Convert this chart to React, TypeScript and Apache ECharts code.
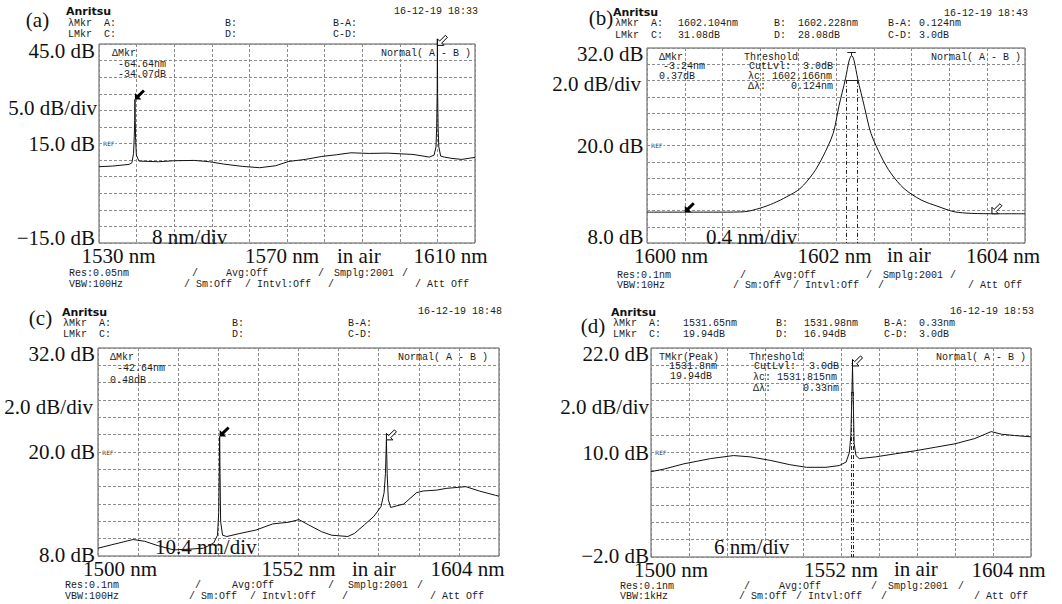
import React, { useEffect, useRef } from "react";
import * as echarts from "echarts";

// ---------- data: panel (a) ----------
const wavelengthA = [1530.0, 1532.9, 1536.4, 1537.0, 1537.35, 1537.5, 1537.6, 1537.65, 1537.7, 1537.8, 1537.95, 1538.5, 1542.6, 1546.0, 1550.3, 1553.5, 1556.5, 1560.5, 1564.2, 1567.6, 1570.4, 1573.9, 1577.4, 1580.5, 1583.6, 1587.5, 1591.3, 1596.8, 1600.3, 1601.3, 1601.7, 1601.85, 1601.95, 1602.0, 1602.05, 1602.15, 1602.3, 1602.7, 1603.5, 1605.1, 1607.2, 1609.0, 1610.0];
const powerA = [8.0, 8.2, 8.7, 9.2, 12.0, 17.0, 22.0, 28.3, 22.0, 16.0, 11.5, 9.7, 9.5, 9.8, 9.9, 9.5, 8.8, 8.1, 7.7, 8.3, 9.6, 10.2, 11.1, 11.6, 12.2, 12.0, 12.1, 11.7, 10.9, 11.5, 14.0, 20.0, 30.0, 46.5, 30.0, 20.0, 14.0, 11.2, 10.9, 10.5, 10.2, 10.6, 10.8];
const xTicksA = [1530, 1538, 1546, 1554, 1562, 1570, 1578, 1586, 1594, 1602, 1610];
const xLabelsA = [1530, 1570, 1610];
const yLabelsA = [45, 15, -15];

// ---------- data: panel (b) ----------
const wavelengthB = [1600.0, 1600.4, 1600.8, 1601.03, 1601.2, 1601.34, 1601.48, 1601.62, 1601.76, 1601.86, 1601.97, 1602.03, 1602.1, 1602.14, 1602.166, 1602.19, 1602.23, 1602.3, 1602.37, 1602.48, 1602.58, 1602.72, 1602.9, 1603.08, 1603.25, 1603.43, 1603.7, 1604.0];
const powerB = [11.8, 11.8, 11.8, 11.85, 12.3, 12.9, 13.7, 14.7, 16.6, 18.6, 21.5, 24.8, 28.2, 30.5, 31.08, 30.5, 28.2, 24.8, 21.5, 18.6, 16.6, 14.7, 13.3, 12.5, 11.85, 11.65, 11.6, 11.6];
const xTicksB = [1600, 1600.4, 1600.8, 1601.2, 1601.6, 1602, 1602.4, 1602.8, 1603.2, 1603.6, 1604];
const xLabelsB = [1600, 1602, 1604];
const yLabelsB = [32, 20, 8];
const markersB = [1602.104, 1602.228];
const levelsB = [28.08, 31.08];

// ---------- data: panel (c) ----------
const wavelengthC = [1500.0, 1503.6, 1509.1, 1512.1, 1515.5, 1519.7, 1524.0, 1527.4, 1530.0, 1531.0, 1531.3, 1531.45, 1531.55, 1531.65, 1531.8, 1532.3, 1533.4, 1536.8, 1541.0, 1545.3, 1549.5, 1552.1, 1554.6, 1558.0, 1560.6, 1564.8, 1566.5, 1569.1, 1571.6, 1573.4, 1574.2, 1574.55, 1574.8, 1575.0, 1575.3, 1575.9, 1579.3, 1582.6, 1584.3, 1587.8, 1590.3, 1595.4, 1598.9, 1603.1, 1604.0];
const powerC = [8.9, 9.3, 9.9, 9.7, 9.2, 8.7, 8.8, 8.9, 9.5, 10.4, 13.0, 17.5, 21.8, 17.5, 12.0, 10.4, 10.25, 10.6, 11.0, 11.7, 11.9, 12.2, 11.6, 10.8, 10.4, 10.25, 10.6, 11.6, 12.6, 13.7, 15.3, 17.5, 21.4, 17.5, 14.5, 13.6, 14.0, 15.3, 15.5, 15.6, 15.8, 16.0, 15.5, 15.0, 14.9];
const xTicksC = [1500, 1510.4, 1520.8, 1531.2, 1541.6, 1552, 1562.4, 1572.8, 1583.2, 1593.6, 1604];
const xLabelsC = [1500, 1552, 1604];
const yLabelsC = [32, 20, 8];

// ---------- data: panel (d) ----------
const wavelengthD = [1500.0, 1503.6, 1509.0, 1516.3, 1522.6, 1527.1, 1532.6, 1538.0, 1542.5, 1547.9, 1551.5, 1553.4, 1554.3, 1554.7, 1554.95, 1555.15, 1555.35, 1555.6, 1556.1, 1557.0, 1561.5, 1566.9, 1572.3, 1577.8, 1583.2, 1588.6, 1593.1, 1595.9, 1599.5, 1604.0];
const powerD = [7.8, 8.1, 8.7, 9.3, 9.65, 9.5, 9.1, 8.6, 8.3, 8.3, 8.5, 8.9, 10.0, 12.0, 16.0, 19.94, 16.0, 11.0, 9.65, 9.3, 9.5, 9.85, 10.2, 10.6, 11.0, 11.6, 12.4, 12.1, 11.95, 11.8];
const xTicksD = [1500, 1510.4, 1520.8, 1531.2, 1541.6, 1552, 1562.4, 1572.8, 1583.2, 1593.6, 1604];
const xLabelsD = [1500, 1552, 1604];
const yLabelsD = [22, 10, -2];
const markersD = [1554.86, 1555.43];
const levelsD = [16.94, 19.94];

// ---------- styles ----------
const SERIF = '"Liberation Serif", "Times New Roman", serif';
const MONO = '"Liberation Mono", "DejaVu Sans Mono", monospace';
const TEXT = "#1c1c1c";
const ARROW = "path://M0,10L0,3.5L2.2,5.7L8,0L10,2L4.3,7.8L6.5,10Z";

const near = (a: number, b: number) => Math.abs(a - b) < 1e-6;

function arrow(coord: number[], hollow: boolean, offset: number[] = [5, -5]) {
  return {
    coord,
    symbol: ARROW,
    symbolSize: 10,
    symbolOffset: offset,
    itemStyle: hollow
      ? { color: "#fff", borderColor: "#000", borderWidth: 1 }
      : { color: "#000", borderWidth: 0 },
    label: { show: false },
  };
}

function seg(p1: number[], p2: number[], dashed: boolean) {
  return [
    {
      coord: p1,
      lineStyle: { color: "#222", width: 1, type: dashed ? [4, 2, 1, 2] : "solid" },
    },
    { coord: p2 },
  ];
}

type PanelCfg = {
  grid: { left: number; top: number; width: number; height: number };
  xs: number[];
  ys: number[];
  xMin: number;
  xMax: number;
  xTicks: number[];
  xLabels: number[];
  xPad: [number, number, number]; // lo padLeft, mid shift, hi padRight
  yMin: number;
  yMax: number;
  yStep: number;
  yLabels: number[];
  yShift: [number, number]; // top down-shift, bottom up-shift
  yMargin: number;
  clip: boolean;
  smooth: number | boolean;
  points: any[];
  lines: any[];
  ref: number;
};

const panels: PanelCfg[] = [
  {
    grid: { left: 99, top: 44, width: 376, height: 199 },
    xs: wavelengthA, ys: powerA,
    xMin: 1530, xMax: 1610, xTicks: xTicksA, xLabels: xLabelsA, xPad: [39, -5, 49],
    yMin: -15, yMax: 45, yStep: 5, yLabels: yLabelsA, yShift: [7, 5], yMargin: 4,
    clip: false, smooth: false,
    points: [arrow([1537.65, 28.3], false), arrow([1602.0, 44.9], true, [5, -4])],
    lines: [],
    ref: 15,
  },
  {
    grid: { left: 647, top: 48, width: 378, height: 195 },
    xs: wavelengthB, ys: powerB,
    xMin: 1600, xMax: 1604, xTicks: xTicksB, xLabels: xLabelsB, xPad: [48, -1.5, 44],
    yMin: 8, yMax: 32, yStep: 2, yLabels: yLabelsB, yShift: [5.5, 6], yMargin: 3.5,
    clip: true, smooth: 0.3,
    points: [arrow([1600.4, 11.8], false), arrow([1603.65, 11.6], true)],
    lines: [
      seg([markersB[0], levelsB[0]], [markersB[0], 8], true),
      seg([markersB[1], levelsB[0]], [markersB[1], 8], true),
      seg([markersB[0], levelsB[0]], [markersB[1], levelsB[0]], false),
      seg([1602.12, levelsB[1] + 0.4], [1602.21, levelsB[1] + 0.4], false),
      seg([1602.166, levelsB[1] + 0.4], [1602.166, levelsB[1]], false),
    ],
    ref: 20,
  },
  {
    grid: { left: 98, top: 348, width: 401, height: 208 },
    xs: wavelengthC, ys: powerC,
    xMin: 1500, xMax: 1604, xTicks: xTicksC, xLabels: xLabelsC, xPad: [44, 0, 63],
    yMin: 8, yMax: 32, yStep: 2, yLabels: yLabelsC, yShift: [6, 1.5], yMargin: 3,
    clip: true, smooth: false,
    points: [arrow([1531.55, 21.8], false), arrow([1574.8, 21.4], true)],
    lines: [],
    ref: 20,
  },
  {
    grid: { left: 651, top: 348, width: 380, height: 209 },
    xs: wavelengthD, ys: powerD,
    xMin: 1500, xMax: 1604, xTicks: xTicksD, xLabels: xLabelsD, xPad: [40, 0, 45],
    yMin: -2, yMax: 22, yStep: 2, yLabels: yLabelsD, yShift: [6, 1.5], yMargin: 2,
    clip: true, smooth: false,
    points: [arrow([1555.15, 19.94], true)],
    lines: [
      seg([markersD[0], levelsD[0]], [markersD[0], -2], true),
      seg([markersD[1], levelsD[0]], [markersD[1], -2], true),
      seg([markersD[0], levelsD[0]], [markersD[1], levelsD[0]], false),
      seg([1554.9, levelsD[1] + 0.3], [1555.4, levelsD[1] + 0.3], false),
    ],
    ref: 10,
  },
];

// ---------- text helpers ----------
function txt(text: string, x: number, y: number, opts: any = {}) {
  const align = opts.align || "left";
  return {
    type: "text",
    x,
    y,
    silent: true,
    z: 100,
    style: {
      text,
      fill: opts.fill || TEXT,
      fontFamily: opts.family || MONO,
      fontSize: opts.size || 10,
      fontWeight: opts.weight || "normal",
      align,
      textAlign: align,
      verticalAlign: "middle",
      textVerticalAlign: "middle",
      backgroundColor: opts.bg,
      padding: opts.bg ? [0, 1] : undefined,
    },
  };
}
const mono = (t: string, x: number, y: number, align = "left") => txt(t, x, y, { align });
const serif = (t: string, x: number, y: number, align = "left") =>
  txt(t, x, y, { align, family: SERIF, size: 21, fill: "#111" });
const logo = (x: number, y: number) =>
  txt("Anritsu", x, y, { family: '"DejaVu Sans", sans-serif', size: 11, weight: "bold", fill: "#111" });

function footer(rows: [number, number], xs: number[], texts: string[][]) {
  const out: any[] = [];
  texts.forEach((row, ri) => {
    row.forEach((t, i) => {
      if (t) out.push(mono(t, xs[ri * 6 + i], rows[ri]));
    });
  });
  return out;
}

function buildGraphics() {
  const g: any[] = [];
  // REF labels
  panels.forEach((p) => {
    const refY = p.grid.top + (p.grid.height * (p.yMax - p.ref)) / (p.yMax - p.yMin);
    g.push(txt("REF", p.grid.left + 3, refY, { size: 6, family: '"DejaVu Sans", sans-serif', bg: "#fff", fill: "#333" }));
  });

  // ---- (a)
  g.push(serif("(a)", 37.5, 20, "center"));
  g.push(logo(66, 11));
  g.push(mono("16-12-19 18:33", 478, 11, "right"));
  g.push(mono("λMkr  A:", 68, 23), mono("B:", 225, 23), mono("B-A:", 333, 23));
  g.push(mono("LMkr  C:", 68, 34), mono("D:", 225, 34), mono("C-D:", 333, 34));
  g.push(mono("ΔMkr", 112, 53.7), mono("-64.64nm", 118, 64), mono("-34.07dB", 118, 74.7));
  g.push(mono("Normal( A - B )", 381, 53.7));
  g.push(serif("5.0 dB/div", 97, 108, "right"));
  g.push(serif("8 nm/div", 152, 237));
  g.push(serif("in air", 337, 255.5));
  g.push(
    ...footer([273, 284], [69, 192, 226, 318, 334, 402, 69, 184, 245, 328, 415, 0], [
      ["Res:0.05nm", "/", "Avg:Off", "/", "Smplg:2001", "/"],
      ["VBW:100Hz", "/ Sm:Off", "/ Intvl:Off", "/", "/ Att Off", ""],
    ])
  );

  // ---- (b)
  g.push(serif("(b)", 601, 18, "center"));
  g.push(logo(613, 12));
  g.push(mono("16-12-19 18:43", 1028, 13, "right"));
  g.push(mono("λMkr  A:", 615, 23), mono("1602.104nm", 678, 23), mono("B:", 774, 23), mono("1602.228nm", 798, 23), mono("B-A:", 888, 23), mono("0.124nm", 919, 23));
  g.push(mono("LMkr  C:", 615, 35), mono("31.08dB", 678, 35), mono("D:", 774, 35), mono("28.08dB", 798, 35), mono("C-D:", 888, 35), mono("3.0dB", 919, 35));
  g.push(mono("ΔMkr", 659, 57), mono("-3.24nm", 663, 66.3), mono("0.37dB", 659, 76));
  g.push(mono("Threshold", 744, 57), mono("CutLvl:", 749, 66.3), mono("3.0dB", 833, 66.3, "right"));
  g.push(mono("λc: 1602.166nm", 748, 76), mono("Δλ:", 748, 86.7), mono("0.124nm", 833, 86.7, "right"));
  g.push(mono("Normal( A - B )", 931, 57));
  g.push(serif("2.0 dB/div", 641, 84, "right"));
  g.push(serif("0.4 nm/div", 706, 237));
  g.push(serif("in air", 887, 255));
  g.push(
    ...footer([275, 285.7], [617, 740, 774, 866, 883, 950, 617, 733, 793, 878, 968, 0], [
      ["Res:0.1nm", "/", "Avg:Off", "/", "Smplg:2001", "/"],
      ["VBW:10Hz", "/ Sm:Off", "/ Intvl:Off", "/", "/ Att Off", ""],
    ])
  );

  // ---- (c)
  g.push(serif("(c)", 40.5, 318, "center"));
  g.push(logo(62, 312));
  g.push(mono("16-12-19 18:48", 502, 311.7, "right"));
  g.push(mono("λMkr  A:", 63, 323), mono("B:", 232, 323), mono("B-A:", 348, 323));
  g.push(mono("LMkr  C:", 63, 334), mono("D:", 232, 334), mono("C-D:", 348, 334));
  g.push(mono("ΔMkr", 110, 357), mono("-42.64nm", 117, 368.5), mono("0.48dB", 110, 380));
  g.push(mono("Normal( A - B )", 398, 357));
  g.push(serif("2.0 dB/div", 93, 406.5, "right"));
  g.push(serif("10.4 nm/div", 155, 547));
  g.push(serif("in air", 352, 569));
  g.push(
    ...footer([585.7, 596], [65, 195, 232, 328, 348, 417, 65, 189, 250, 342, 430, 0], [
      ["Res:0.1nm", "/", "Avg:Off", "/", "Smplg:2001", "/"],
      ["VBW:100Hz", "/ Sm:Off", "/ Intvl:Off", "/", "/ Att Off", ""],
    ])
  );

  // ---- (d)
  g.push(serif("(d)", 593, 325.5, "center"));
  g.push(logo(611, 312));
  g.push(mono("16-12-19 18:53", 1034, 311.7, "right"));
  g.push(mono("λMkr  A:", 613, 323.3), mono("1531.65nm", 683, 323.3), mono("B:", 776, 323.3), mono("1531.98nm", 804, 323.3), mono("B-A:", 884, 323.3), mono("0.33nm", 919, 323.3));
  g.push(mono("LMkr  C:", 613, 334.3), mono("19.94dB", 683, 334.3), mono("D:", 776, 334.3), mono("16.94dB", 804, 334.3), mono("C-D:", 884, 334.3), mono("3.0dB", 919, 334.3));
  g.push(mono("TMkr(Peak)", 659, 357), mono("1531.8nm", 669, 366.5), mono("19.94dB", 670, 376));
  g.push(mono("Threshold", 749, 357), mono("CutLvl:", 754, 366.5), mono("3.0dB", 839, 366.5, "right"));
  g.push(mono("λc: 1531.815nm", 753, 377), mono("Δλ:", 753, 388), mono("0.33nm", 839, 388, "right"));
  g.push(mono("Normal( A - B )", 936, 357));
  g.push(serif("2.0 dB/div", 649, 406.5, "right"));
  g.push(serif("6 nm/div", 714, 546.5));
  g.push(serif("in air", 894, 569));
  g.push(
    ...footer([586.7, 596.7], [620, 744, 779, 871, 888, 958, 620, 739, 796, 881, 974, 0], [
      ["Res:0.1nm", "/", "Avg:Off", "/", "Smplg:2001", "/"],
      ["VBW:1kHz", "/ Sm:Off", "/ Intvl:Off", "/", "/ Att Off", ""],
    ])
  );
  return g;
}

function buildOption() {
  const labelStyle = { fontFamily: SERIF, fontSize: 21, color: "#111", lineHeight: 22 };
  const gridLine = { show: true, lineStyle: { color: "#8c8c8c", width: 1, type: [3, 2] } };

  const grid = panels.map((p) => ({
    ...p.grid,
    show: true,
    backgroundColor: "#fff",
    borderColor: "#555",
    borderWidth: 1,
    containLabel: false,
    outerBoundsMode: "none",
  }));

  const xAxis = panels.map((p, i) => ({
    type: "value",
    gridIndex: i,
    min: p.xMin,
    max: p.xMax,
    axisLine: { show: false },
    axisTick: { show: false, customValues: p.xTicks },
    splitLine: gridLine,
    axisLabel: {
      show: true,
      customValues: p.xLabels,
      margin: 2,
      ...labelStyle,
      formatter: (v: number) => {
        const k = p.xLabels.findIndex((l) => near(l, v));
        if (k < 0) return "";
        return `{${["lo", "mid", "hi"][k]}|${p.xLabels[k]} nm}`;
      },
      rich: {
        lo: { ...labelStyle, padding: [0, 0, 0, p.xPad[0]] },
        mid: {
          ...labelStyle,
          padding: p.xPad[1] >= 0 ? [0, 0, 0, 2 * p.xPad[1]] : [0, -2 * p.xPad[1], 0, 0],
        },
        hi: { ...labelStyle, padding: [0, p.xPad[2], 0, 0] },
      },
    },
  }));

  const yAxis = panels.map((p, i) => ({
    type: "value",
    gridIndex: i,
    min: p.yMin,
    max: p.yMax,
    interval: p.yStep,
    axisLine: { show: false },
    axisTick: { show: false },
    splitLine: gridLine,
    axisLabel: {
      show: true,
      margin: p.yMargin,
      ...labelStyle,
      formatter: (v: number) => {
        const k = p.yLabels.findIndex((l) => near(l, v));
        if (k < 0) return "";
        const s = p.yLabels[k].toFixed(1).replace("-", "\u2212") + " dB";
        return `{${["t", "m", "b"][k]}|${s}}`;
      },
      rich: {
        t: { ...labelStyle, padding: [2 * p.yShift[0], 0, 0, 0] },
        m: { ...labelStyle },
        b: { ...labelStyle, padding: [0, 0, 2 * p.yShift[1], 0] },
      },
    },
  }));

  const series = panels.map((p, i) => ({
    type: "line",
    xAxisIndex: i,
    yAxisIndex: i,
    data: p.xs.map((x, j) => [x, p.ys[j]]),
    showSymbol: false,
    symbol: "none",
    smooth: p.smooth,
    clip: p.clip,
    lineStyle: { color: "#111", width: 1 },
    silent: true,
    markPoint: { silent: true, data: p.points, label: { show: false } },
    markLine: {
      silent: true,
      symbol: ["none", "none"],
      label: { show: false },
      lineStyle: { color: "#222", width: 1 },
      data: p.lines,
    },
  }));

  return {
    animation: false,
    backgroundColor: "#fff",
    grid,
    xAxis,
    yAxis,
    series,
    graphic: { elements: buildGraphics() },
  };
}

export default function App() {
  const ref = useRef<HTMLDivElement>(null);
  useEffect(() => {
    if (!ref.current) return;
    const chart = echarts.init(ref.current, undefined, { renderer: "svg" });
    chart.setOption(buildOption() as any);
    return () => chart.dispose();
  }, []);
  return (
    <div
      ref={ref}
      style={{ position: "fixed", left: 0, top: 0, width: 1062, height: 604, background: "#fff" }}
    />
  );
}
